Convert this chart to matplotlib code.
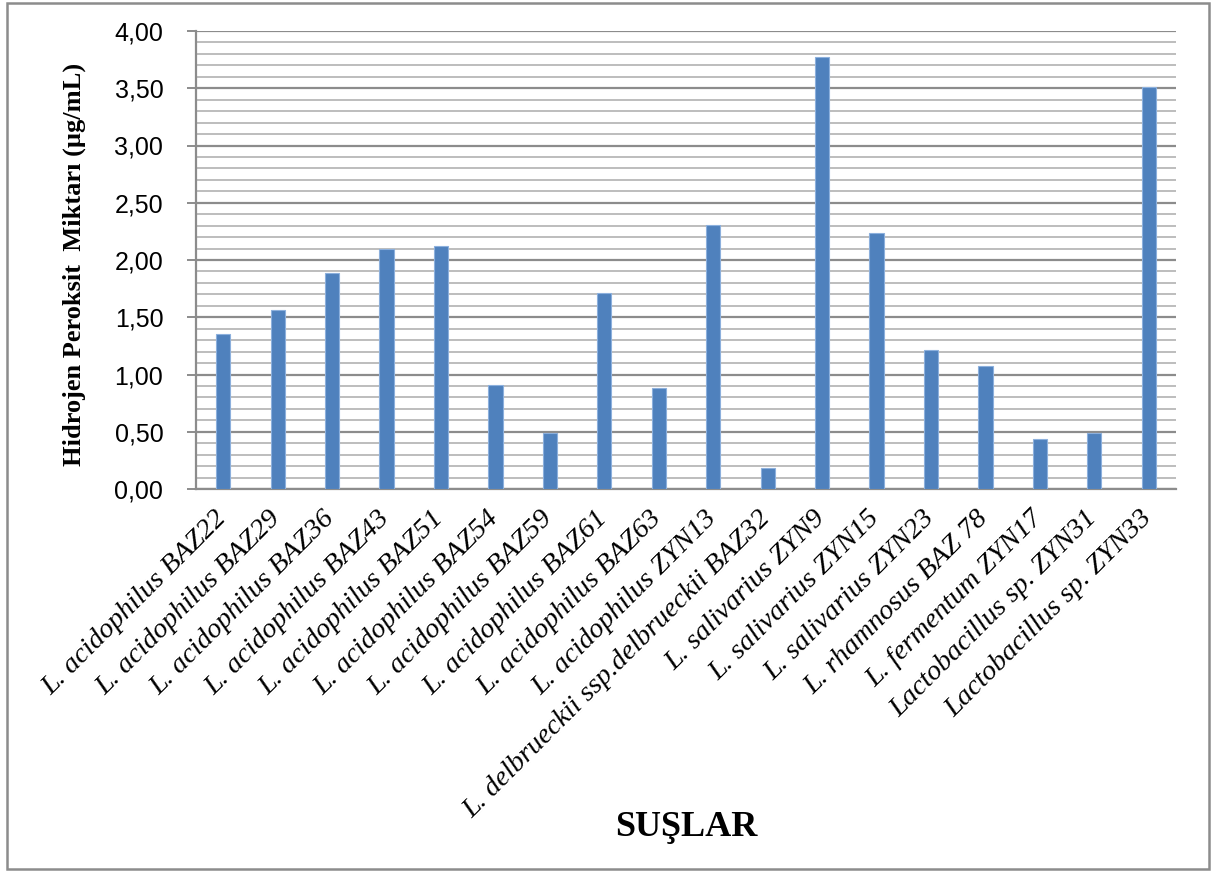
import matplotlib.pyplot as plt
import matplotlib.transforms as mtransforms
from matplotlib.patches import Rectangle
from matplotlib.ticker import MultipleLocator, FuncFormatter

# hydrogen peroxide produced by each strain (ug/mL)
strains = [
    'L. acidophilus BAZ22', 'L. acidophilus BAZ29', 'L. acidophilus BAZ36',
    'L. acidophilus BAZ43', 'L. acidophilus BAZ51', 'L. acidophilus BAZ54',
    'L. acidophilus BAZ59', 'L. acidophilus BAZ61', 'L. acidophilus BAZ63',
    'L. acidophilus ZYN13', 'L. delbrueckii ssp.delbrueckii BAZ32',
    'L. salivarius ZYN9', 'L. salivarius ZYN15', 'L. salivarius ZYN23',
    'L. rhamnosus BAZ 78', 'L. fermentum ZYN17', 'Lactobacillus sp. ZYN31',
    'Lactobacillus sp. ZYN33',
]
h2o2 = [1.35, 1.56, 1.89, 2.10, 2.12, 0.91, 0.49, 1.71, 0.88,
        2.31, 0.18, 3.77, 2.24, 1.21, 1.07, 0.44, 0.49, 3.51]

fig = plt.figure(figsize=(12.18, 8.73), dpi=100)
ax = fig.add_axes([196 / 1218, 1 - 489 / 873, 980 / 1218, 458 / 873])

x = range(len(strains))
ax.bar(x, h2o2, width=0.26, color='#4F81BD', edgecolor='#8CB0DD',
       linewidth=0.8, zorder=3)

ax.set_xlim(-0.5, len(strains) - 0.5)
ax.set_ylim(0, 4)
ax.yaxis.set_major_locator(MultipleLocator(0.5))
ax.yaxis.set_minor_locator(MultipleLocator(0.1))
ax.yaxis.set_major_formatter(FuncFormatter(lambda v, p: f'{v:.2f}'.replace('.', ',')))
ax.grid(which='minor', axis='y', color='#BDBDBD', linewidth=1.4, zorder=0)
ax.grid(which='major', axis='y', color='#8C8C8C', linewidth=1.6, zorder=1)

for s in ['top', 'right']:
    ax.spines[s].set_visible(False)
ax.spines['left'].set_color('#8C8C8C')
ax.spines['bottom'].set_color('#8C8C8C')
ax.spines['left'].set_linewidth(1.6)
ax.spines['bottom'].set_linewidth(1.6)

ax.tick_params(axis='y', which='major', length=6.5, width=1.4, color='#8C8C8C',
               pad=17, labelsize=18)
ax.tick_params(axis='y', which='minor', length=0)
ax.tick_params(axis='x', length=0, pad=10)
for lbl in ax.get_yticklabels():
    lbl.set_family('Liberation Sans')

ax.set_xticks(list(x))
ax.set_xticklabels(strains, rotation=45, ha='right', va='top',
                   rotation_mode='anchor', family='Liberation Serif',
                   style='italic', fontsize=20.5)
# pull the rotated names back so they end right under their bars
shift = mtransforms.ScaledTranslation(-7 / 72, -2 / 72, fig.dpi_scale_trans)
for lbl in ax.get_xticklabels():
    lbl.set_transform(lbl.get_transform() + shift)

ax.set_ylabel('Hidrojen Peroksit  Miktarı (µg/mL)', family='Liberation Serif',
              fontweight='bold', fontsize=19)
ax.yaxis.set_label_coords(-0.112, 0.49)
fig.text(686 / 1218, 1 - 827 / 873, 'SUŞLAR', family='Liberation Serif',
         fontweight='bold', fontsize=26, ha='center', va='center')

# outer chart frame
fig.add_artist(Rectangle((7 / 1218, 4 / 873), 1202 / 1218, 866 / 873,
                         transform=fig.transFigure, fill=False,
                         edgecolor='#8C8C8C', linewidth=1.8))

fig.savefig('out.png', dpi=100)
